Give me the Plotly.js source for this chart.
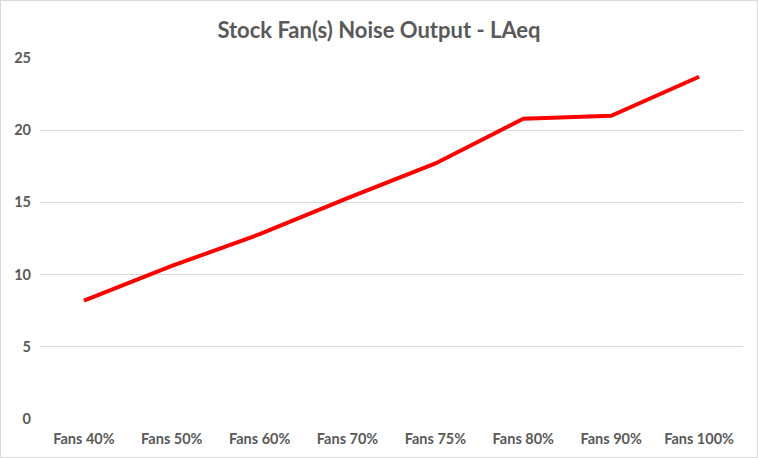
<!DOCTYPE html>
<html>
<head>
<meta charset="utf-8">
<script src="https://cdn.plot.ly/plotly-3.0.1.min.js"></script>
<style>
html,body{margin:0;padding:0;background:#fff;}
#chart{width:758px;height:458px;box-sizing:border-box;border:1px solid #d9d9d9;}
</style>
</head>
<body>
<div id="chart"></div>
<script>
const categories = ["Fans 40%","Fans 50%","Fans 60%","Fans 70%","Fans 75%","Fans 80%","Fans 90%","Fans 100%"];
const laeq = [8.2, 10.6, 12.8, 15.3, 17.7, 20.8, 21.0, 23.7];
const yTicks = [0, 5, 10, 15, 20, 25];

const trace = {
  x: categories,
  y: laeq,
  type: 'scatter',
  mode: 'lines',
  line: {color: '#ff0000', width: 4},
  hoverinfo: 'x+y'
};

const tickFont = {family: 'Lato, sans-serif', size: 14.5, color: '#595959', weight: 'bold'};

const layout = {
  width: 756,
  height: 456,
  margin: {l: 39, r: 14, t: 57, b: 38},
  paper_bgcolor: '#ffffff',
  plot_bgcolor: '#ffffff',
  showlegend: false,
  title: {
    text: 'Stock Fan(s) Noise Output - LAeq',
    font: {family: 'Lato, sans-serif', size: 22, color: '#595959', weight: 'bold'},
    x: 0.5, xanchor: 'center', y: 0.936, yanchor: 'middle'
  },
  xaxis: {
    type: 'category',
    range: [-0.5, 7.5],
    showgrid: false,
    zeroline: false,
    showline: false,
    ticks: '',
    ticklabelstandoff: 9,
    tickfont: tickFont,
    automargin: false
  },
  yaxis: {
    range: [0, 25],
    tickvals: yTicks,
    ticktext: yTicks.map(String),
    showgrid: true,
    gridcolor: '#d9d9d9',
    gridwidth: 1,
    zeroline: false,
    showline: false,
    ticks: '',
    ticklabelstandoff: 8,
    tickfont: tickFont,
    automargin: false
  }
};

Plotly.newPlot('chart', [trace], layout, {displayModeBar: false, staticPlot: true});
</script>
</body>
</html>
